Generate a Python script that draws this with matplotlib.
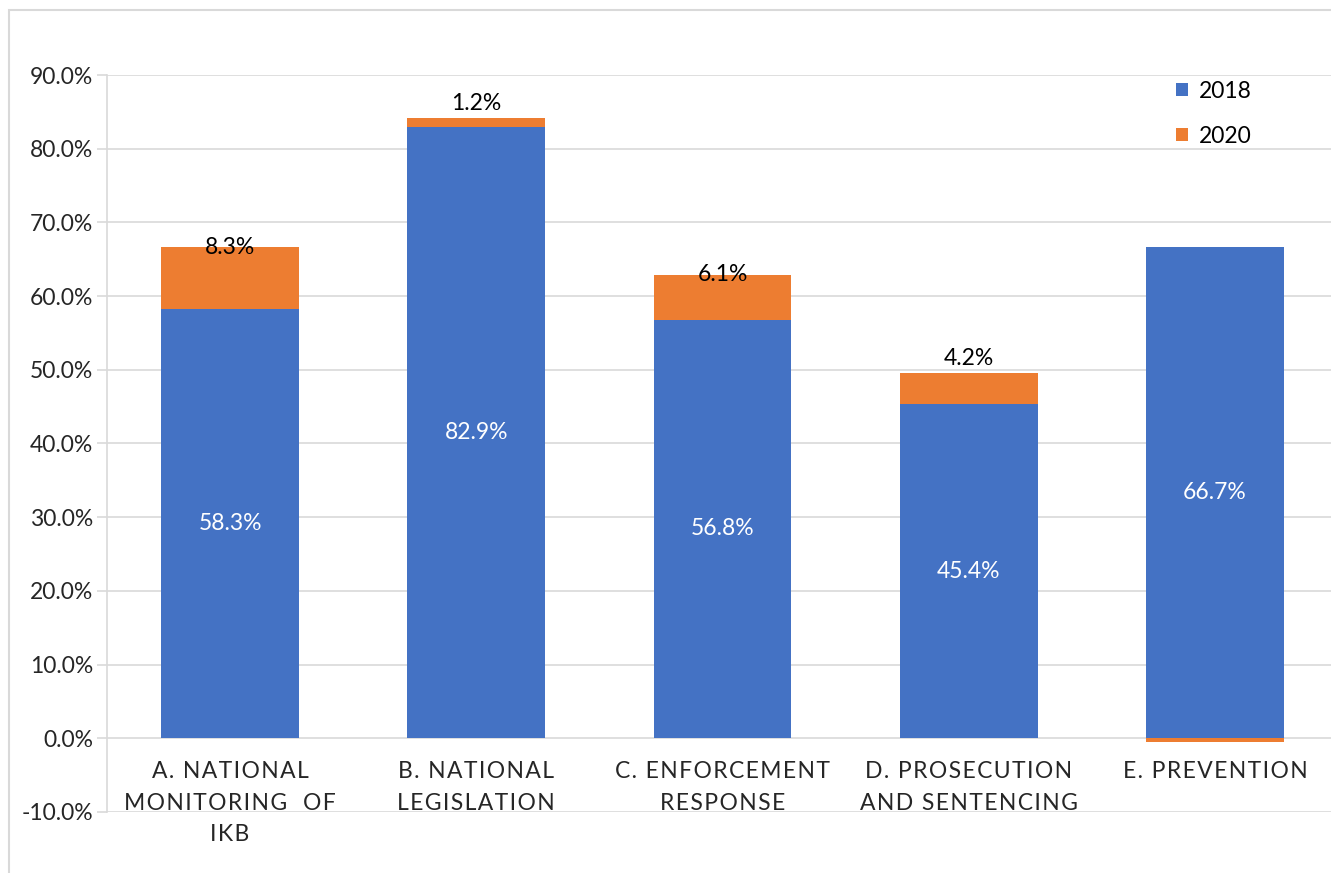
import matplotlib.pyplot as plt
from matplotlib.patches import Rectangle
from matplotlib.ticker import FuncFormatter

plt.rcParams['font.family'] = ['Lato', 'DejaVu Sans']

# 数据
categories = ["A. NATIONAL\nMONITORING  OF\nIKB", "B. NATIONAL\nLEGISLATION", "C. ENFORCEMENT\nRESPONSE",
              "D. PROSECUTION\nAND SENTENCING", "E. PREVENTION"]
vals_2018 = [58.3, 82.9, 56.8, 45.4, 66.7]
vals_2020 = [8.3, 1.2, 6.1, 4.2, -0.5]
labels_2018 = ["58.3%", "82.9%", "56.8%", "45.4%", "66.7%"]
labels_2020 = ["8.3%", "1.2%", "6.1%", "4.2%", ""]

blue = "#4472C4"
orange = "#ED7D31"
grid_c = "#D9D9D9"
fs = 16.5


def spaced(s):
    # 字母间距加宽
    return "\n".join("\u200a".join(line) for line in s.split("\n"))


W, H = 1331, 873
fig = plt.figure(figsize=(W / 100, H / 100), dpi=100)
ax = fig.add_axes([107 / W, (H - 812) / H, (1338 - 107) / W, (812 - 75) / H])

x = list(range(len(categories)))
bw = 0.56
ax.bar(x, vals_2018, bw, color=blue, label="2018", zorder=3)
bottoms = [b if v >= 0 else 0 for b, v in zip(vals_2018, vals_2020)]
ax.bar(x, vals_2020, bw, bottom=bottoms, color=orange, label="2020", zorder=3)

for i in x:
    ax.text(i, vals_2018[i] / 2, labels_2018[i], color="white", ha="center", va="center", fontsize=fs, zorder=4)
    if labels_2020[i]:
        top = vals_2018[i] + vals_2020[i]
        if vals_2020[i] < 5:
            ax.annotate(labels_2020[i], (i, top), xytext=(0, 3), textcoords="offset points",
                        ha="center", va="bottom", fontsize=fs, zorder=4)
        else:
            ax.text(i, top, labels_2020[i], ha="center", va="center", fontsize=fs, zorder=4)
    ax.annotate(spaced(categories[i]), (i, 0), xytext=(0, -16.5), textcoords="offset points",
                ha="center", va="top", fontsize=fs, linespacing=1.62, color="#262626")

ax.set_xlim(-0.5, 4.5)
ax.set_ylim(-10, 90)
ax.set_yticks(range(-10, 91, 10))
ax.yaxis.set_major_formatter(FuncFormatter(lambda v, p: "%.1f%%" % v))
ax.tick_params(axis="y", labelsize=fs, length=7, color=grid_c, width=1.2, pad=3, labelcolor="#262626")
ax.set_xticks([])
ax.grid(axis="y", color=grid_c, linewidth=1.2, zorder=0)
for s in ["top", "right", "bottom"]:
    ax.spines[s].set_visible(False)
ax.spines["left"].set_color(grid_c)
ax.spines["left"].set_linewidth(1.2)

ax.legend(loc="upper left", bbox_to_anchor=(1155 / W, 1 - 60 / H), bbox_transform=fig.transFigure,
          frameon=False, fontsize=fs, handlelength=0.55, handleheight=0.55, labelspacing=1.05,
          handletextpad=0.45)

fig.patches.append(Rectangle((9 / W, -0.1), 1.2, 1.1 - 10 / H, transform=fig.transFigure,
                             fill=False, edgecolor=grid_c, linewidth=1.5))

fig.savefig("out.png", dpi=100)
